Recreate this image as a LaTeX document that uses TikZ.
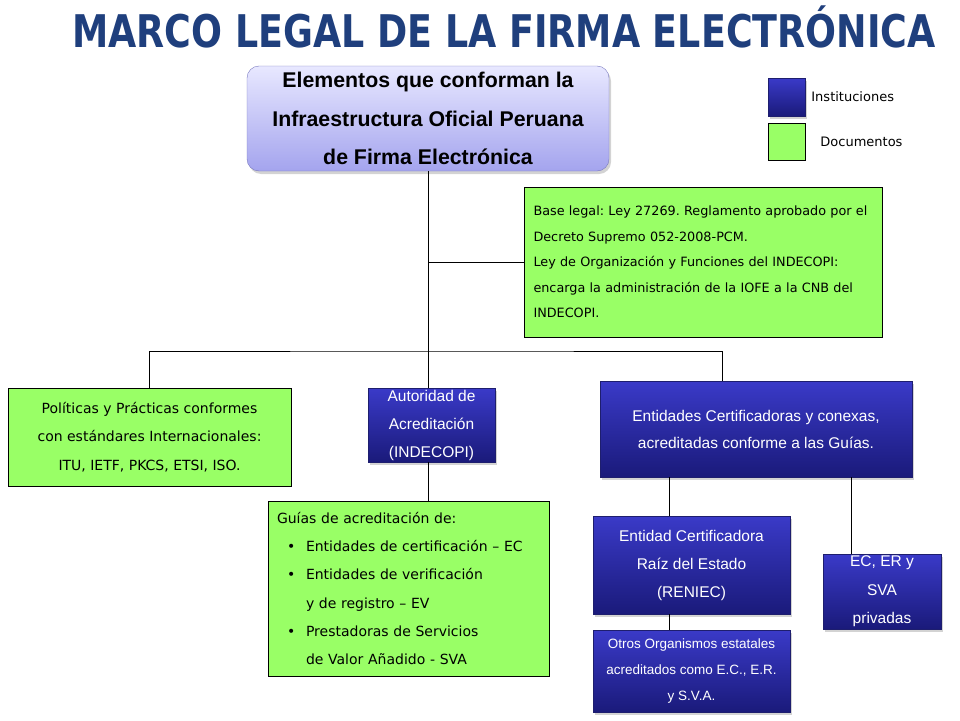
\documentclass[tikz,border=0pt]{standalone}
\usepackage{fontspec}
\setmainfont{DejaVu Sans}
\newfontfamily\arialfont{Liberation Sans}
\usetikzlibrary{shapes.geometric, shadows, positioning}
\definecolor{azultitulo}{RGB}{31,63,125}
\definecolor{verdedoc}{RGB}{153,255,102}
\definecolor{instarriba}{RGB}{58,58,200}
\definecolor{instabajo}{RGB}{26,26,122}
\definecolor{instborde}{RGB}{30,30,110}
\definecolor{cabarriba}{RGB}{232,232,255}
\definecolor{cababajo}{RGB}{164,164,238}
\definecolor{cabborde}{RGB}{120,120,190}
\tikzstyle{titulo} = [font=\bfseries\fontsize{45}{50}\selectfont, text=azultitulo, inner sep=0pt]
\tikzstyle{cabecera} = [rectangle, rounded corners=12pt, top color=cabarriba, bottom color=cababajo, draw=cabborde, align=center, font={\arialfont\bfseries\fontsize{21.3}{38.5}\selectfont}, drop shadow={opacity=0.35, shadow xshift=2pt, shadow yshift=-3pt}]
\tikzstyle{inst} = [rectangle, top color=instarriba, bottom color=instabajo, draw=instborde, text=white, align=center, inner sep=0pt, font={\arialfont\fontsize{15.5}{28}\selectfont}, drop shadow={opacity=0.35, shadow xshift=2pt, shadow yshift=-3pt}]
\tikzstyle{doc} = [rectangle, fill=verdedoc, draw=black, font=\fontsize{12.8}{25.5}\selectfont]
\tikzstyle{leyenda} = [inner sep=0pt, font=\fontsize{13}{15}\selectfont]
\tikzstyle{linea} = [line width=1pt, black]

\frenchspacing
\begin{document}
\begin{tikzpicture}[x=1pt, y=-1pt]
\useasboundingbox (0,0) rectangle (960,720);

\node (tit) at (504,27) [titulo] {\scalebox{0.81}[1]{MARCO LEGAL DE LA FIRMA ELECTRÓNICA}};

\node (elem) at (428,118.5) [cabecera, minimum width=362pt, minimum height=105pt] {Elementos que conforman la\\Infraestructura Oficial Peruana\\de Firma Electrónica};

% leyenda
\node (leginst) at (786.5,97) [inst, minimum width=37pt, minimum height=38pt] {};
\node (legdoc) at (786.5,141.5) [doc, minimum width=37pt, minimum height=37pt] {};
\node (tinst) [leyenda, right=6pt of leginst] {Instituciones};
\node (tdoc) [leyenda, right=15pt of legdoc] {Documentos};

\node (base) at (703.5,262) [doc, minimum width=357pt, minimum height=150pt, text width=340pt, inner xsep=9pt, align=left] {Base legal: Ley 27269. Reglamento aprobado por el\\Decreto Supremo 052-2008-PCM.\\Ley de Organización y Funciones del INDECOPI:\\encarga la administración de la IOFE a la CNB del\\INDECOPI.};

\node (pol) at (149.5,437) [doc, minimum width=283pt, minimum height=98pt, align=center, font=\fontsize{14}{28.5}\selectfont] {Políticas y Prácticas conformes\\con estándares Internacionales:\\ITU, IETF, PKCS, ETSI, ISO.};

\node (auto) at (431.5,425) [inst, minimum width=127pt, minimum height=74pt] {Autoridad de\\Acreditación\\(INDECOPI)};

\node (guias) at (408.5,588.5) [doc, minimum width=281pt, minimum height=175pt, text width=263pt, inner xsep=9pt, align=left, font=\fontsize{14}{28.2}\selectfont] {Guías de acreditación de:\\
\hspace*{10pt}\makebox[19pt][l]{•}Entidades de certificación – EC\\
\hspace*{10pt}\makebox[19pt][l]{•}Entidades de verificación\\
\hspace*{29pt}y de registro – EV\\
\hspace*{10pt}\makebox[19pt][l]{•}Prestadoras de Servicios\\
\hspace*{29pt}de Valor Añadido - SVA};

\node (ent) at (756,429) [inst, minimum width=312pt, minimum height=96pt, font={\arialfont\fontsize{15.5}{27}\selectfont}] {Entidades Certificadoras y conexas,\\acreditadas conforme a las Guías.};

\node (raiz) at (691.5,565) [inst, minimum width=197pt, minimum height=98pt] {Entidad Certificadora\\Raíz del Estado\\(RENIEC)};

\node (otros) at (691.5,671) [inst, minimum width=197pt, minimum height=82pt, font={\arialfont\fontsize{13.5}{26}\selectfont}] {Otros Organismos estatales\\acreditados como E.C., E.R.\\y S.V.A.};

\node (ecer) at (882,591.5) [inst, minimum width=118pt, minimum height=75pt, font={\arialfont\fontsize{15.5}{28.5}\selectfont}] {EC, ER y\\SVA\\privadas};

\coordinate (bus) at (428,351);

\draw [linea] (elem.south) -- (elem.south |- auto.north);
\draw [linea] (elem.south |- base.west) -- (base.west);
\draw [linea] (pol.north) |- (bus) -| ([xshift=-34pt]ent.north);
\draw [linea] (elem.south |- auto.south) -- (elem.south |- guias.north);
\draw [linea] ([xshift=-87pt]ent.south) -- ([xshift=-87pt]ent.south |- raiz.north);
\draw [linea] ([xshift=95pt]ent.south) -- ([xshift=95pt]ent.south |- ecer.north);
\draw [linea] ([xshift=-22.5pt]raiz.south) -- ([xshift=-22.5pt]raiz.south |- otros.north);
\end{tikzpicture}
\end{document}
